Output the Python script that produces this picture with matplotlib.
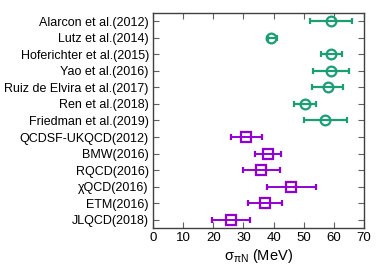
import matplotlib
matplotlib.use("Agg")
import matplotlib.pyplot as plt

plt.rcParams['font.family'] = ['Liberation Sans', 'DejaVu Sans']
plt.rcParams['mathtext.fontset'] = 'custom'
plt.rcParams['mathtext.rm'] = 'Liberation Sans'
plt.rcParams['mathtext.it'] = 'Liberation Sans:italic'

labels = ["Alarcon et al.(2012)", "Lutz et al.(2014)", "Hoferichter et al.(2015)",
          "Yao et al.(2016)", "Ruiz de Elvira et al.(2017)", "Ren et al.(2018)",
          "Friedman et al.(2019)", "QCDSF-UKQCD(2012)", "BMW(2016)", "RQCD(2016)",
          "χQCD(2016)", "ETM(2016)", "JLQCD(2018)"]

pheno_val = [59.0, 39.0, 59.2, 59.0, 58.0, 50.3, 57.0]
pheno_lo = [7.0, 1.0, 3.6, 6.0, 5.1, 3.6, 7.0]
pheno_hi = [7.0, 2.0, 3.6, 6.0, 5.1, 3.8, 7.2]

latt_val = [31.0, 38.0, 35.9, 45.9, 37.2, 26.0]
latt_lo = [5.2, 4.3, 6.1, 8.1, 5.6, 6.3]
latt_hi = [5.2, 4.3, 6.1, 8.1, 5.5, 6.3]

xticks = [0, 10, 20, 30, 40, 50, 60, 70]

fig = plt.figure(figsize=(3.82, 2.70), dpi=100)
ax = fig.add_axes([0.4005, 0.1556, 0.5525, 0.7964])

n = len(labels)
ypos = list(range(n - 1, -1, -1))
yp = ypos[:len(pheno_val)]
yl = ypos[len(pheno_val):]

green = '#1a9e74'
purple = '#9400d3'

ax.errorbar(pheno_val, yp, xerr=[pheno_lo, pheno_hi], fmt='o', mfc='none',
            mec=green, color=green, ms=7, mew=1.6, elinewidth=1.6, capsize=2.2,
            capthick=1.4)
ax.errorbar(latt_val, yl, xerr=[latt_lo, latt_hi], fmt='s', mfc='none',
            mec=purple, color=purple, ms=7, mew=1.6, elinewidth=1.4, capsize=2.2,
            capthick=1.2)

ax.set_xlim(0, 70)
ax.set_ylim(-0.5, 12.5)
ax.set_xticks(xticks)
ax.set_xticklabels([str(t) for t in xticks])
ax.set_yticks(ypos)
ax.set_yticklabels(labels)
ax.tick_params(axis='both', direction='in', top=True, right=True, length=4,
               width=0.8, color='#606060', labelsize=9, pad=3)
ax.tick_params(axis='x', labelsize=9.5)
for s in ax.spines.values():
    s.set_color('#404040')
    s.set_linewidth(1.0)
ax.set_xlabel('σ$_{\\mathrm{πN}}$ (MeV)', fontsize=10.5, labelpad=2)

fig.savefig('out.png', dpi=100)
